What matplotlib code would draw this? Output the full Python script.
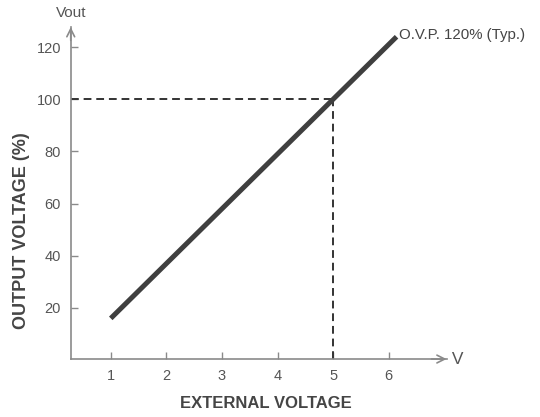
import matplotlib
matplotlib.use("Agg")
import matplotlib.pyplot as plt

plt.rcParams['font.family'] = ['Liberation Sans', 'DejaVu Sans']

# data
ext_voltage = [1.0, 6.14]        # V
out_voltage = [16.0, 124.0]      # %
rated_x = 5.0
rated_y = 100.0
x_ticks = [1, 2, 3, 4, 5, 6]
y_ticks = [20, 40, 60, 80, 100, 120]
ovp_label = 'O.V.P. 120% (Typ.)'

axis_col = '#8a8a8a'
text_col = '#555555'
line_col = '#3f3f3f'

fig = plt.figure(figsize=(5.4, 4.17), dpi=100)
ax = fig.add_axes([0.131, 0.139, 0.696, 0.796])
ax.set_xlim(0.28, 7.04)
ax.set_ylim(0.4, 127.7)

# main characteristic line
ax.plot(ext_voltage, out_voltage, color=line_col, linewidth=3.6,
        solid_capstyle='butt', zorder=3)

# dashed guide lines to the rated point
ax.plot([ax.get_xlim()[0], rated_x], [rated_y, rated_y], color='#333333',
        linewidth=1.4, linestyle=(0, (4, 2.5)), zorder=2)
ax.plot([rated_x, rated_x], [ax.get_ylim()[0], rated_y], color='#333333',
        linewidth=1.4, linestyle=(0, (4, 2.5)), zorder=2)

ax.text(ext_voltage[-1] + 0.04, out_voltage[-1] + 0.5, ovp_label, fontsize=10.8,
        color='#444444', ha='left', va='center')

# spines with open arrows
for side in ['top', 'right']:
    ax.spines[side].set_visible(False)
for side in ['left', 'bottom']:
    ax.spines[side].set_color(axis_col)
    ax.spines[side].set_linewidth(1.2)

ax.annotate('', xy=(1.0, 0), xycoords='axes fraction', xytext=(0.96, 0),
            arrowprops=dict(arrowstyle='->', color=axis_col, lw=1.2,
                            mutation_scale=14, shrinkA=0, shrinkB=0))
ax.annotate('', xy=(0, 1.0), xycoords='axes fraction', xytext=(0, 0.96),
            arrowprops=dict(arrowstyle='->', color=axis_col, lw=1.2,
                            mutation_scale=14, shrinkA=0, shrinkB=0))

ax.text(1.0, 0, ' V', transform=ax.transAxes, fontsize=12.5, color=text_col,
        ha='left', va='center')
ax.text(0, 1.02, 'Vout', transform=ax.transAxes, fontsize=11, color=text_col,
        ha='center', va='bottom')

ax.set_xticks(x_ticks)
ax.set_yticks(y_ticks)
ax.tick_params(axis='both', direction='in', length=5, width=1, color=axis_col,
               labelcolor=text_col, labelsize=10.5, pad=7)

ax.set_xlabel('EXTERNAL VOLTAGE', fontsize=12, fontweight='bold',
              color='#454545')
ax.set_ylabel('OUTPUT VOLTAGE (%)', fontsize=13, fontweight='bold',
              color='#454545')
ax.xaxis.set_label_coords(0.519, -0.112)
ax.yaxis.set_label_coords(-0.109, 0.386)

fig.savefig('out.png', dpi=100)
